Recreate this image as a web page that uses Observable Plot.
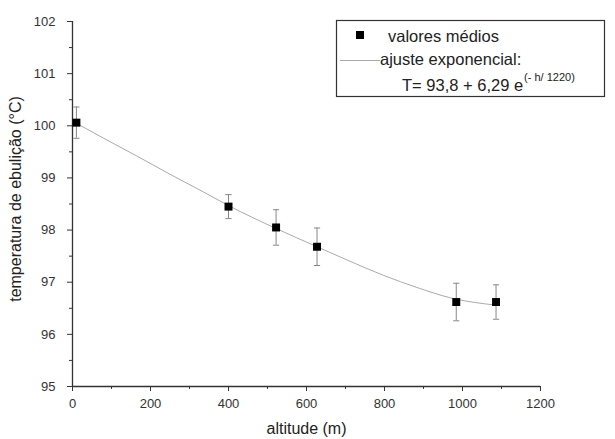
<!DOCTYPE html>
<html>
<head>
<meta charset="utf-8">
<script src="https://cdn.jsdelivr.net/npm/d3@7"></script>
<script src="https://cdn.jsdelivr.net/npm/@observablehq/plot@0.6"></script>
<style>
  body { margin: 0; background: #fff; font-family: "Liberation Sans", Arial, sans-serif; }
  #wrap { position: relative; width: 615px; height: 439px; }
  #legend { position: absolute; left: 0; top: 0; pointer-events: none; }
</style>
</head>
<body>
<div id="wrap">
  <div id="chart"></div>
  <svg id="legend" width="615" height="120"></svg>
</div>
<script>
// Measured mean boiling temperatures
const altitude = [10, 400, 522, 627, 984, 1086];
const temperature = [100.06, 98.45, 98.05, 97.68, 96.62, 96.62];
const errorBar = [0.30, 0.23, 0.34, 0.36, 0.36, 0.33];

// Exponential fit curve
const fitAltitude = [10, 80, 165, 250, 336, 400, 522, 627, 712, 798, 883, 969, 1086];
const fitTemperature = [100.05, 99.76, 99.42, 99.07, 98.73, 98.47, 98.03, 97.68, 97.40, 97.13, 96.90, 96.70, 96.56];

// Axis ticks
const xTicks = [0, 200, 400, 600, 800, 1000, 1200];
const xMinorTicks = [100, 300, 500, 700, 900, 1100];
const yTicks = [95, 96, 97, 98, 99, 100, 101, 102];
const yMinorTicks = [95.5, 96.5, 97.5, 98.5, 99.5, 100.5, 101.5];

const xTitle = "altitude (m)";
const yTitle = "temperatura de ebulição (°C)";
const legendLabels = ["valores médios", "ajuste exponencial:", "T= 93,8 + 6,29 e", "(- h/ 1220)"];

const points = altitude.map((h, i) => ({h, t: temperature[i], lo: temperature[i] - errorBar[i], hi: temperature[i] + errorBar[i]}));
const fit = fitAltitude.map((h, i) => ({h, t: fitTemperature[i]}));

const capSymbol = {
  draw(context, size) {
    const w = Math.sqrt(size) / 2;
    context.moveTo(-w, 0);
    context.lineTo(w, 0);
  }
};

const axisColor = "#333";
const font = "Liberation Sans, Arial, sans-serif";

const chart = Plot.plot({
  width: 615,
  height: 439,
  marginLeft: 72,
  marginRight: 75,
  marginTop: 21,
  marginBottom: 53,
  style: {fontFamily: font, fontSize: "13px", color: "#333", background: "#fff"},
  x: {domain: [0, 1200]},
  y: {domain: [95, 102]},
  marks: [
    Plot.ruleY([95], {stroke: axisColor, strokeWidth: 1.3}),
    Plot.ruleX([0], {stroke: axisColor, strokeWidth: 1.3}),
    Plot.axisX({ticks: xTicks, tickSize: 5, tickPadding: 7, tickFormat: d => String(d), label: null, stroke: axisColor, fill: "#333", fontSize: 13}),
    Plot.axisX({ticks: xMinorTicks, tickSize: 3, text: null, label: null, stroke: axisColor}),
    Plot.axisY({ticks: yTicks, tickSize: 5, tickPadding: 12, tickFormat: d => String(d), label: null, stroke: axisColor, fill: "#333", fontSize: 13}),
    Plot.axisY({ticks: yMinorTicks, tickSize: 3, text: null, label: null, stroke: axisColor}),
    Plot.text([xTitle], {frameAnchor: "bottom", dy: 47, text: d => d, fontSize: 16, fill: "#222"}),
    Plot.text([yTitle], {frameAnchor: "left", dx: -57, dy: -5, rotate: -90, textAnchor: "middle", text: d => d, fontSize: 16, fill: "#222"}),
    Plot.line(fit, {x: "h", y: "t", stroke: "#aaa", strokeWidth: 1, curve: "monotone-x"}),
    Plot.ruleX(points, {x: "h", y1: "lo", y2: "hi", stroke: "#888", strokeWidth: 1}),
    Plot.dot(points, {x: "h", y: "hi", symbol: capSymbol, r: 3.5, stroke: "#888", strokeWidth: 1}),
    Plot.dot(points, {x: "h", y: "lo", symbol: capSymbol, r: 3.5, stroke: "#888", strokeWidth: 1}),
    Plot.dot(points, {x: "h", y: "t", symbol: "square", r: 4.5, fill: "#000", stroke: "none"})
  ]
});
document.getElementById("chart").appendChild(chart);

// Legend box (drawn inside the plot area, top right)
const lg = d3.select("#legend").style("font-family", font).attr("font-size", 16.5).attr("fill", "#222");
lg.append("rect").attr("x", 336.5).attr("y", 20.5).attr("width", 268).attr("height", 76).attr("fill", "#fff").attr("stroke", "#333").attr("stroke-width", 1.2);
lg.append("rect").attr("x", 356).attr("y", 31).attr("width", 8).attr("height", 8).attr("fill", "#000");
lg.append("text").attr("x", 388).attr("y", 42).text(legendLabels[0]);
lg.append("line").attr("x1", 340).attr("x2", 380).attr("y1", 60.5).attr("y2", 60.5).attr("stroke", "#aaa").attr("stroke-width", 1);
lg.append("text").attr("x", 380).attr("y", 65).text(legendLabels[1]);
const t3 = lg.append("text").attr("x", 402).attr("y", 91);
t3.append("tspan").text(legendLabels[2]);
t3.append("tspan").attr("dx", 1).attr("dy", -10).attr("font-size", 11).text(legendLabels[3]);
</script>
</body>
</html>
